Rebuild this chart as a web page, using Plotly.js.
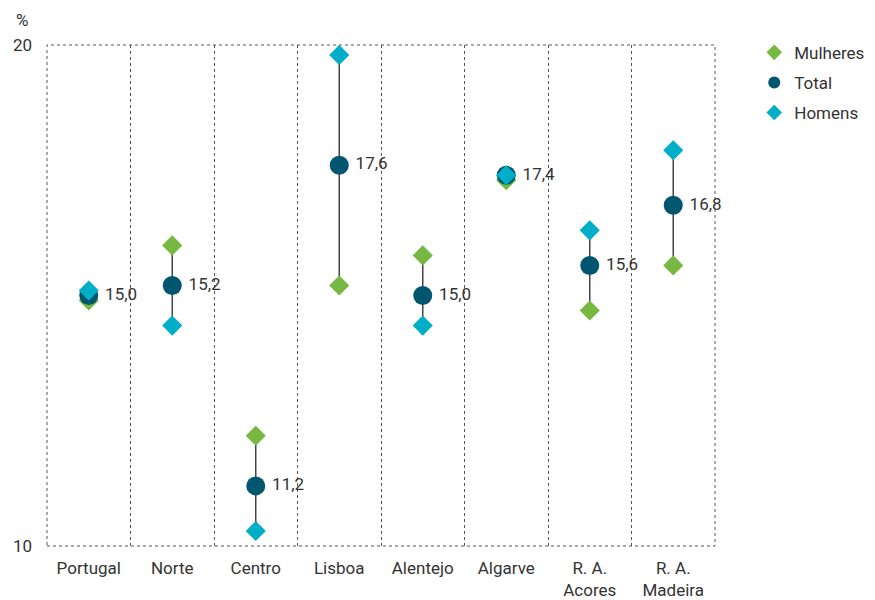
<!DOCTYPE html>
<html><head><meta charset="utf-8">
<script src="https://cdn.plot.ly/plotly-3.0.1.min.js"></script>
<style>body{margin:0;background:#fff}#chart{width:875px;height:600px}</style>
</head><body><div id="chart"></div>
<script>
const categories = ["Portugal","Norte","Centro","Lisboa","Alentejo","Algarve","R. A.<br>Acores","R. A.<br>Madeira"];
const mulheres = [14.9, 16.0, 12.2, 15.2, 15.8, 17.3, 14.7, 15.6];
const total    = [15.0, 15.2, 11.2, 17.6, 15.0, 17.4, 15.6, 16.8];
const homens   = [15.1, 14.4, 10.3, 19.8, 14.4, 17.4, 16.3, 17.9];

const lx = [], ly = [];
categories.forEach((c, i) => {
  const lo = Math.min(mulheres[i], homens[i]), hi = Math.max(mulheres[i], homens[i]);
  lx.push(c, c, null); ly.push(lo, hi, null);
});
const labels = total.map(v => '\u2009' + v.toFixed(1).replace('.', ','));
const font = {family: "Roboto, 'DejaVu Sans', sans-serif", size: 17, color: '#333'};

const traces = [
  {x: lx, y: ly, type: 'scatter', mode: 'lines', line: {color: '#444', width: 1.5}, showlegend: false, hoverinfo: 'skip'},
  {x: categories, y: mulheres, name: 'Mulheres', legendgroup: 'm', type: 'scatter', mode: 'markers',
   marker: {symbol: 'diamond', size: 15.5, color: '#77b843'}},
  {x: categories, y: total, name: 'Total', legendgroup: 't', type: 'scatter', mode: 'markers+text',
   marker: {symbol: 'circle', size: 19, color: '#00566e'}, cliponaxis: false,
   text: labels, textposition: 'middle right', textfont: font},
  {x: categories, y: homens, name: 'Homens', legendgroup: 'h', type: 'scatter', mode: 'markers',
   marker: {symbol: 'diamond', size: 15.5, color: '#00aec7'}}
];

const layout = {
  width: 875, height: 600,
  margin: {l: 47, r: 160, t: 45, b: 54},
  paper_bgcolor: '#fff', plot_bgcolor: '#fff',
  font: font,
  showlegend: true,
  legend: {xref: 'container', yref: 'container', x: 0.862, y: 0.942, xanchor: 'left', yanchor: 'top',
           font: {family: font.family, size: 17, color: '#333'}, tracegroupgap: 5, itemwidth: 30, itemsizing: 'constant'},
  xaxis: {type: 'category', tickson: 'boundaries', showgrid: true, griddash: 'dot', gridcolor: '#555', gridwidth: 1,
          ticks: '', showline: false, zeroline: false, tickfont: font, ticklabelstandoff: 10, range: [-0.5, 7.5]},
  yaxis: {range: [10, 20], tickvals: [10, 20], ticktext: ['10', '20'], showgrid: true, griddash: 'dot', gridcolor: '#555',
          zeroline: false, showline: false, ticks: '', tickfont: font, ticklabelstandoff: 14},
  shapes: [{type: 'rect', xref: 'paper', yref: 'paper', x0: 0, x1: 1, y0: 0, y1: 1,
            line: {color: '#555', width: 1, dash: 'dot'}}],
  annotations: [{text: '%', xref: 'paper', yref: 'paper', x: -0.037, y: 1.05, xanchor: 'center', yanchor: 'middle',
                 showarrow: false, font: font}]
};
Plotly.newPlot('chart', traces, layout, {displayModeBar: false, staticPlot: true});
</script></body></html>
